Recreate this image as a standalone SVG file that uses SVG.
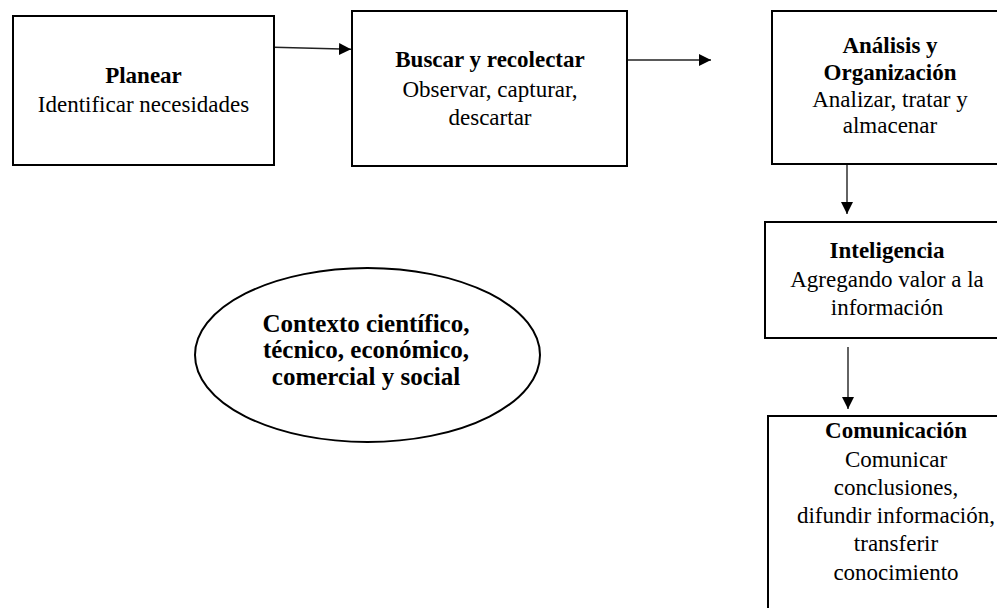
<svg xmlns="http://www.w3.org/2000/svg" width="997" height="608" viewBox="0 0 997 608">
<style>
.box{fill:#fff;stroke:#000;stroke-width:2}
.conn{stroke:#222;stroke-width:1.4;fill:none}
text{font-family:"Liberation Serif","Times New Roman",serif;font-size:23px;fill:#000;text-anchor:middle}
.b{font-weight:bold}
.e{font-size:25px;font-weight:bold}
</style>
<defs>
<marker id="ah" markerUnits="userSpaceOnUse" markerWidth="12" markerHeight="12" refX="12" refY="6" orient="auto">
<path d="M0,0 L12,6 L0,12 z" fill="#000"/>
</marker>
</defs>
<rect width="997" height="608" fill="#fff"/>
<g id="connectors">
<line class="conn" x1="274" y1="47.3" x2="351" y2="49.3" marker-end="url(#ah)"/>
<line class="conn" x1="628" y1="60" x2="711" y2="60" marker-end="url(#ah)"/>
<line class="conn" x1="847" y1="165" x2="847" y2="214" marker-end="url(#ah)"/>
<line class="conn" x1="848" y1="347" x2="848" y2="409" marker-end="url(#ah)"/>
</g>
<g id="planear">
<rect class="box" x="13" y="16" width="261" height="149"/>
<text class="b" x="143.5" y="83">Planear</text>
<text x="143.5" y="112">Identificar necesidades</text>
</g>
<g id="buscar">
<rect class="box" x="352" y="11" width="275" height="155"/>
<text class="b" x="490" y="67">Buscar y recolectar</text>
<text x="490" y="97">Observar, capturar,</text>
<text x="490" y="125">descartar</text>
</g>
<g id="analisis">
<rect class="box" x="772" y="11" width="240" height="153"/>
<text class="b" x="890" y="53">Análisis y</text>
<text class="b" x="890" y="80">Organización</text>
<text x="890" y="107">Analizar, tratar y</text>
<text x="890" y="133">almacenar</text>
</g>
<g id="inteligencia">
<rect class="box" x="765" y="222" width="250" height="116"/>
<text class="b" x="887" y="258">Inteligencia</text>
<text x="887" y="287">Agregando valor a la</text>
<text x="887" y="315">información</text>
</g>
<g id="comunicacion">
<rect class="box" x="768" y="416" width="250" height="220"/>
<text class="b" x="896" y="438">Comunicación</text>
<text x="896" y="467">Comunicar</text>
<text x="896" y="495">conclusiones,</text>
<text x="896" y="523">difundir información,</text>
<text x="896" y="551">transferir</text>
<text x="896" y="580">conocimiento</text>
</g>
<g id="contexto">
<ellipse class="box" cx="367.5" cy="355" rx="172.5" ry="87"/>
<text class="e" x="366" y="332">Contexto científico,</text>
<text class="e" x="366" y="358">técnico, económico,</text>
<text class="e" x="366" y="385">comercial y social</text>
</g>
</svg>
